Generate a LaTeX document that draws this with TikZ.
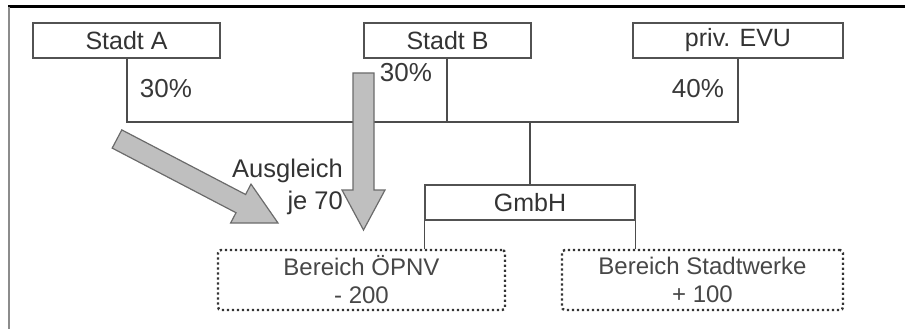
\documentclass[tikz,border=0pt]{standalone}
\usepackage{fontspec}
\setmainfont{Liberation Sans}
\begin{document}
\begin{tikzpicture}[x=1pt,y=-1pt,
  txt/.style={text=black!80, font=\fontsize{25.5}{32}\selectfont, inner sep=0pt},
  pct/.style={text=black!78, font=\fontsize{26}{28}\selectfont, inner sep=0pt},
  orgbox/.style={draw=black!68, line width=1.5pt, minimum height=35pt, inner sep=0pt, text=black!80, font=\fontsize{25}{26}\selectfont},
  dotbox/.style={draw=black!80, line width=2.4pt, dash pattern=on 2.2pt off 2.8pt, rounded corners=3pt, minimum height=60pt, inner sep=0pt, align=center, text=black!72, font=\fontsize{24}{28}\selectfont},
  conn/.style={draw=black!70, line width=1.3pt},
  bigarrow/.style={fill=black!25, draw=black!58, line width=1.2pt, line join=miter}
]
\useasboundingbox (0,0) rectangle (905,329);
% frame
\draw[black, line width=3pt] (8,7) -- (905,7);
\draw[black!45, line width=2pt] (9,7) -- (9,329);

% owner boxes
\node[orgbox, minimum width=187pt] (sa) at (126.5,40.5) {Stadt A};
\node[orgbox, minimum width=167pt] (sb) at (447.5,40.5) {Stadt B};
\node[orgbox, minimum width=210pt] (evu) at (738,40.5) {priv. EVU};

% junction coordinates
\coordinate (ja) at (127,122);
\coordinate (jb) at (447,122);
\coordinate (je) at (738,122);
\coordinate (jg) at (530,122);

\draw[conn] (sa.south -| ja) -- (ja) -- (je) -- (evu.south -| je);
\draw[conn] (sb.south -| jb) -- (jb);

% GmbH
\node[orgbox, minimum width=210pt] (g) at (530,202.5) {GmbH};
\draw[conn] (jg) -- (g.north);

% divisions
\node[dotbox, minimum width=287pt] (oepnv) at (361.5,280) {Bereich ÖPNV\\- 200};
\node[dotbox, minimum width=281pt] (sw) at (702.5,280) {Bereich Stadtwerke\\+ 100};
\draw[conn] (g.south west) -- (g.south west |- oepnv.north);
\draw[conn] (g.south east) -- (g.south east |- sw.north);

% percentages
\node[pct] (pa) at (166,89) {30\%};
\node[pct] (pb) at (406,73) {30\%};
\node[pct] (pe) at (698,89) {40\%};

% arrows
\draw[bigarrow] (112.2,148.1) -- (121.8,129.9) -- (245.6,194.5) -- (251,184.1) -- (278,223) -- (230.6,223.1) -- (236,212.7) -- cycle;
\draw[bigarrow] (353,73) -- (374,73) -- (374,190) -- (385,190) -- (363.5,230) -- (342,190) -- (353,190) -- cycle;

% label
\node[txt, align=right, anchor=east] (lab) at (343,187) {Ausgleich\\je 70};
\end{tikzpicture}
\end{document}
